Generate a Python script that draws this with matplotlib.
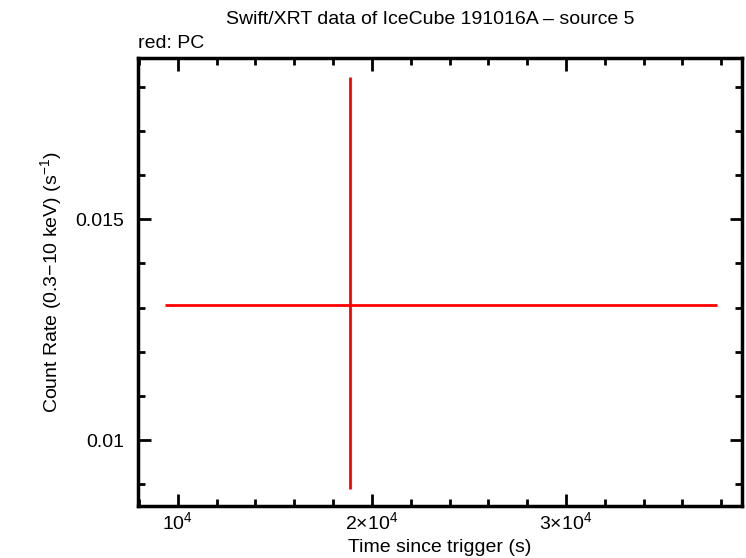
import matplotlib
matplotlib.use("Agg")
import matplotlib.pyplot as plt
from matplotlib.ticker import FixedLocator, MultipleLocator, FixedFormatter

plt.rcParams['font.family'] = ['Liberation Sans', 'DejaVu Sans']
plt.rcParams['mathtext.fontset'] = 'custom'
plt.rcParams['mathtext.rm'] = 'Liberation Sans'
plt.rcParams['mathtext.it'] = 'Liberation Sans:italic'
plt.rcParams['mathtext.bf'] = 'Liberation Sans:bold'

# data (single PC point)
time = [18880.0]
time_err_lo = [9535.0]
time_err_hi = [18905.0]
rate = [0.013052]
rate_err_lo = [0.00416]
rate_err_hi = [0.005165]

xtick_vals = [10000, 20000, 30000]
xtick_labels = [r'$\mathrm{10^4}$', r'$\mathrm{2{\times}10^4}$', r'$\mathrm{3{\times}10^4}$']
ytick_vals = [0.01, 0.015]
ytick_labels = ['0.01', '0.015']

fig = plt.figure(figsize=(7.46, 5.58), dpi=100)
ax = fig.add_axes([138/746, 1-506/558, (742-138)/746, (506-58)/558])

ax.errorbar(time, rate, xerr=[time_err_lo, time_err_hi],
            yerr=[rate_err_lo, rate_err_hi], fmt='none', ecolor='#ff0000',
            elinewidth=2, capsize=0)

ax.set_xlim(7950, 39070)
ax.set_ylim(0.008505, 0.018654)

ax.xaxis.set_major_locator(FixedLocator(xtick_vals))
ax.xaxis.set_major_formatter(FixedFormatter(xtick_labels))
ax.xaxis.set_minor_locator(MultipleLocator(2000))
ax.yaxis.set_major_locator(FixedLocator(ytick_vals))
ax.yaxis.set_major_formatter(FixedFormatter(ytick_labels))
ax.yaxis.set_minor_locator(MultipleLocator(0.001))

ax.tick_params(which='both', direction='in', top=True, right=True, width=2, labelsize=14)
ax.tick_params(which='major', length=9)
ax.tick_params(axis='y', which='major', pad=10)
ax.tick_params(axis='x', which='major', pad=4)
ax.tick_params(which='minor', length=5)
for s in ax.spines.values():
    s.set_linewidth(2.5)

ax.set_xlabel('Time since trigger (s)', fontsize=14, labelpad=4)
ax.set_ylabel(r'Count Rate (0.3$-$10 keV) (s$^{-1}$)', fontsize=14, labelpad=8)
fig.text(430/746, 1-19/558, 'Swift/XRT data of IceCube 191016A – source 5',
         ha='center', va='center', fontsize=14)
fig.text(138/746, 1-43/558, 'red: PC', ha='left', va='center', fontsize=14)

fig.savefig('out.png', dpi=100)
